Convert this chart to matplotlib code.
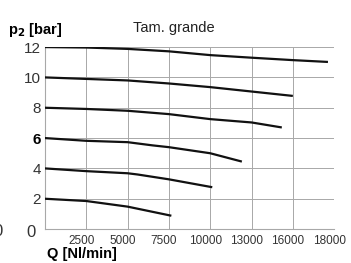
import numpy as np
import matplotlib
matplotlib.use('Agg')
from matplotlib import pyplot as plt
from matplotlib.transforms import ScaledTranslation

plt.rcParams['font.family'] = ['Liberation Sans', 'DejaVu Sans']

# x axis of the chart is not linear: ticks are equally spaced
q_ticks = [0, 2500, 5000, 7500, 10000, 13000, 16000, 18000]
q_tick_labels = ['', '2500', '5000', '7500', '10000', '13000', '16000', '18000']
p_ticks = [0, 2, 4, 6, 8, 10, 12]
p_tick_labels = ['0', '2', '4', '6', '8', '10', '12']

# flow curves, one per set pressure
q_12 = [0, 2500, 5000, 7500, 10000, 13000, 16000, 17700]
p_12 = [12.0, 11.97, 11.88, 11.72, 11.47, 11.3, 11.14, 11.02]
q_10 = [0, 2500, 5000, 7500, 10000, 13000, 16000]
p_10 = [10.0, 9.9, 9.8, 9.6, 9.36, 9.07, 8.78]
q_8 = [0, 2500, 5000, 7500, 10000, 13000, 15200]
p_8 = [8.0, 7.92, 7.8, 7.58, 7.25, 7.03, 6.7]
q_6 = [0, 2500, 5000, 6500, 7500, 10000, 12300]
p_6 = [6.0, 5.82, 5.73, 5.52, 5.4, 5.0, 4.45]
q_4 = [0, 2500, 5000, 5600, 7500, 10150]
p_4 = [4.0, 3.82, 3.68, 3.6, 3.28, 2.76]
q_2 = [0, 2500, 5000, 7650]
p_2 = [2.0, 1.85, 1.48, 0.88]

curves = [(q_12, p_12), (q_10, p_10), (q_8, p_8), (q_6, p_6), (q_4, p_4), (q_2, p_2)]

pos = np.arange(len(q_ticks))


def forward(q):
    return np.interp(q, q_ticks, pos)


def inverse(x):
    return np.interp(x, pos, q_ticks)


fig = plt.figure(figsize=(3.51, 2.63), dpi=100)
ax = fig.add_axes([0.128, 0.129, 0.824, 0.692])
ax.set_xscale('function', functions=(forward, inverse))

for q, p in curves:
    ax.plot(q, p, color='#111111', lw=1.6, solid_capstyle='butt', zorder=3)

ax.set_xlim(0, 18000)
ax.set_ylim(0, 12)
ax.set_xticks(q_ticks)
ax.set_xticklabels(q_tick_labels, fontsize=8.5, family=['Liberation Sans Narrow', 'Liberation Sans'],
                   color='#333333')
ax.set_yticks(p_ticks)
ax.set_yticklabels(p_tick_labels, fontsize=11, color='#333333')
ax.tick_params(length=0, pad=3)
ax.minorticks_off()
ax.tick_params(axis='x', pad=4)

for lab in ax.get_xticklabels():
    lab.set_transform(lab.get_transform() + ScaledTranslation(-5 / 100, 0, fig.dpi_scale_trans))

ylabs = ax.get_yticklabels()
ylabs[3].set_fontweight('bold')
ylabs[3].set_color('black')
ylabs[0].set_fontsize(12)
ylabs[0].set_transform(ylabs[0].get_transform() + ScaledTranslation(-5 / 100, -2 / 100, fig.dpi_scale_trans))

ax.grid(True, color='#a8a8a8', lw=0.7)
ax.set_axisbelow(True)
for s in ['top', 'right']:
    ax.spines[s].set_visible(False)
for s in ['left', 'bottom']:
    ax.spines[s].set_color('#a8a8a8')
    ax.spines[s].set_linewidth(0.8)

fig.text(0.024, 0.885, r'p$_\mathbf{2}$ [bar]', fontsize=10.5, fontweight='bold', va='center')
fig.text(0.378, 0.895, 'Tam. grande', fontsize=10.5, color='#222222', va='center')
fig.text(0.135, 0.035, 'Q [Nl/min]', fontsize=10.5, fontweight='bold', va='center')
fig.text(-0.006, 0.12, '0', fontsize=12, color='#333333', va='center', ha='center')

fig.savefig('out.png', dpi=100)
